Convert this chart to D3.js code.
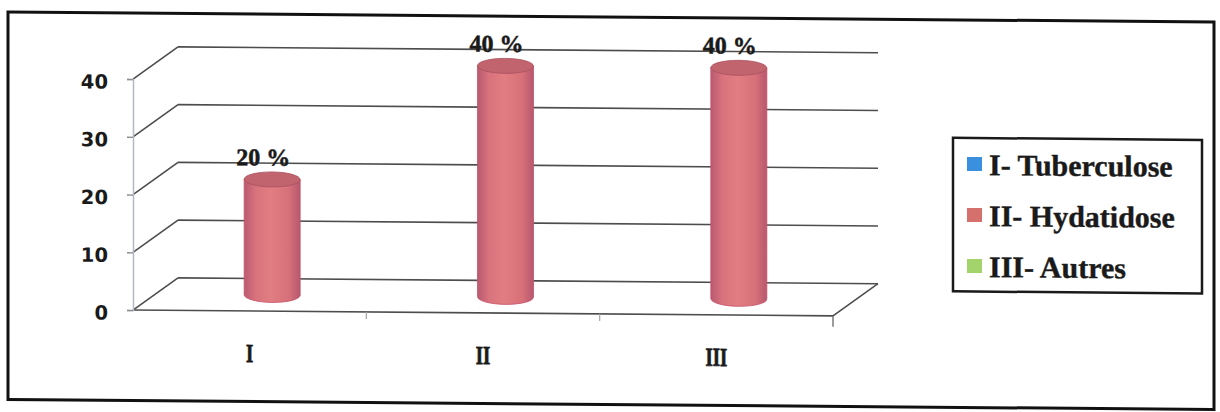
<!DOCTYPE html>
<html>
<head>
<meta charset="utf-8">
<script src="https://cdn.jsdelivr.net/npm/d3@7"></script>
<style>
    body { margin: 0; background: #ffffff; }
    svg { display: block; }
</style>
</head>
<body>
<div id="chart"><svg></svg></div>
<script>

var categories = ["I", "II", "III"];
var values = [20, 40, 40];
var yTicks = [0, 10, 20, 30, 40];
var legendLabels = ["I- Tuberculose", "II- Hydatidose", "III- Autres"];
var legendColors = ["#3a8fde", "#d5706c", "#a3d36b"];

var width = 1220;
var height = 412;

// depth of the 3d box (back wall offset)
var depthX = 45;
var depthY = -32.5;

var svg = d3.select("#chart svg").attr("width", width).attr("height", height);

// scanned page is a little skewed, keep that
var skew = 0.475;
var k = Math.tan(skew * Math.PI / 180);
var g = svg.append("g").attr("transform", "translate(0," + (-610 * k) + ") skewY(" + skew + ")");

var x = d3.scaleBand().domain(categories).range([133, 833]).padding(0);
var y = d3.scaleLinear().domain([0, 40]).range([314, 83]);

var defs = svg.append("defs");
var grad = defs.append("linearGradient").attr("id", "cyl").attr("x1", "0%").attr("x2", "100%");
grad.selectAll("stop")
    .data([["0%", "#b95a70"], ["20%", "#d8727c"], ["48%", "#e17e82"], ["80%", "#d77079"], ["100%", "#b6586e"]])
    .enter().append("stop")
    .attr("offset", function(d) { return d[0]; })
    .attr("stop-color", function(d) { return d[1]; });

// outer frame
g.append("rect")
    .attr("x", 8).attr("y", 17)
    .attr("width", 1206).attr("height", 387.5)
    .style("fill", "none")
    .style("stroke", "#111111")
    .style("stroke-width", 3);

var x0 = x.range()[0];
var x1 = x.range()[1];

// back wall gridlines + left wall diagonals
var grid = g.append("g").attr("class", "grid");
grid.selectAll("line.back")
    .data(yTicks)
    .enter().append("line")
    .attr("class", "back")
    .attr("x1", x0 + depthX).attr("x2", x1 + depthX)
    .attr("y1", function(d) { return y(d) + depthY; })
    .attr("y2", function(d) { return y(d) + depthY; });

grid.selectAll("line.side")
    .data(yTicks)
    .enter().append("line")
    .attr("class", "side")
    .attr("x1", x0).attr("x2", x0 + depthX)
    .attr("y1", function(d) { return y(d); })
    .attr("y2", function(d) { return y(d) + depthY; });

// floor front edge and right edge
grid.append("line")
    .attr("x1", x0).attr("x2", x1)
    .attr("y1", y(0)).attr("y2", y(0));
grid.append("line")
    .attr("x1", x1).attr("x2", x1 + depthX)
    .attr("y1", y(0)).attr("y2", y(0) + depthY);

grid.selectAll("line")
    .style("stroke", "#4d4d4d")
    .style("stroke-width", 1.6);

// category ticks under the floor
g.append("g")
    .selectAll("line")
    .data(categories.slice(1).concat([null]))
    .enter().append("line")
    .attr("x1", function(d) { return d ? x(d) : x1; })
    .attr("x2", function(d) { return d ? x(d) : x1; })
    .attr("y1", y(0))
    .attr("y2", function(d) { return d ? y(0) + 7 : y(0) + 11; })
    .style("stroke", function(d) { return d ? "#aaaaaa" : "#666666"; })
    .style("stroke-width", 1.3);

// front value axis
var yAxis = d3.axisLeft(y).tickValues(yTicks).tickSize(6).tickPadding(19);
var ya = g.append("g")
    .attr("transform", "translate(" + x0 + ",0)")
    .call(yAxis);
ya.select(".domain").style("stroke", "#b4b9c8").style("stroke-width", 1.5);
ya.selectAll(".tick line").style("stroke", "#8c8c8c").style("stroke-width", 1.3);
ya.selectAll(".tick text")
    .attr("dy", "0.48em")
    .style("font-family", "'DejaVu Sans', sans-serif")
    .style("font-weight", "bold")
    .style("font-size", "19.5px")
    .style("fill", "#1a1a1a");

// category labels
g.append("g")
    .attr("class", "cat-labels")
    .selectAll("text")
    .data(categories)
    .enter().append("text")
    .attr("transform", function(d) {
        return "translate(" + (x(d) + x.bandwidth() / 2) + ",365) scale(0.72,1)";
    })
    .attr("text-anchor", "middle")
    .style("font-family", "'Liberation Serif', 'Times New Roman', serif")
    .style("font-weight", "bold")
    .style("font-size", "26px")
    .style("fill", "#1a1a1a")
    .style("stroke", "#1a1a1a")
    .style("stroke-width", 0.8)
    .text(function(d) { return d; });

// cylinders, standing in the middle of the depth
var rx = 28;
var ry = 7.5;
var cyl = g.append("g")
    .selectAll("g")
    .data(values)
    .enter().append("g")
    .attr("transform", function(d, i) {
        return "translate(" + (x(categories[i]) + x.bandwidth() / 2 + depthX / 2) + "," + (depthY / 2) + ")";
    });

cyl.append("path")
    .attr("d", function(d) {
        var yb = y(0);
        var yt = y(d);
        return "M" + (-rx) + "," + yt +
            "L" + (-rx) + "," + yb +
            "A" + rx + "," + ry + " 0 0 0 " + rx + "," + yb +
            "L" + rx + "," + yt + "Z";
    })
    .style("fill", "url(#cyl)")
    .style("stroke", "#c8506a")
    .style("stroke-width", 0.8);

cyl.append("ellipse")
    .attr("cx", 0)
    .attr("cy", function(d) { return y(d); })
    .attr("rx", rx).attr("ry", ry)
    .style("fill", "#c2646e")
    .style("stroke", "#a9505f")
    .style("stroke-width", 0.8);

cyl.append("text")
    .attr("x", -9)
    .attr("y", function(d) { return y(d) - 14; })
    .attr("text-anchor", "middle")
    .style("font-family", "'Liberation Serif', 'Times New Roman', serif")
    .style("font-weight", "bold")
    .style("font-size", "24px")
    .style("fill", "#1a1a1a")
    .style("stroke", "#1a1a1a")
    .style("stroke-width", 0.5)
    .text(function(d) { return d + " %"; });

// legend
var legend = g.append("g").attr("class", "legend");
legend.append("rect")
    .attr("x", 953).attr("y", 135)
    .attr("width", 249).attr("height", 153.5)
    .style("fill", "#ffffff")
    .style("stroke", "#1a1a1a")
    .style("stroke-width", 2.5);

var item = legend.selectAll("g")
    .data(legendLabels)
    .enter().append("g")
    .attr("transform", function(d, i) { return "translate(967," + (172 + i * 51) + ")"; });

item.append("rect")
    .attr("x", 0).attr("y", -18)
    .attr("width", 15).attr("height", 14)
    .style("fill", function(d, i) { return legendColors[i]; });

item.append("text")
    .attr("x", 22)
    .attr("y", 0)
    .style("font-family", "'Liberation Serif', 'Times New Roman', serif")
    .style("font-weight", "bold")
    .style("font-size", "30px")
    .style("fill", "#1a1a1a")
    .style("stroke", "#1a1a1a")
    .style("stroke-width", 0.4)
    .text(function(d) { return d; });

</script>
</body>
</html>
